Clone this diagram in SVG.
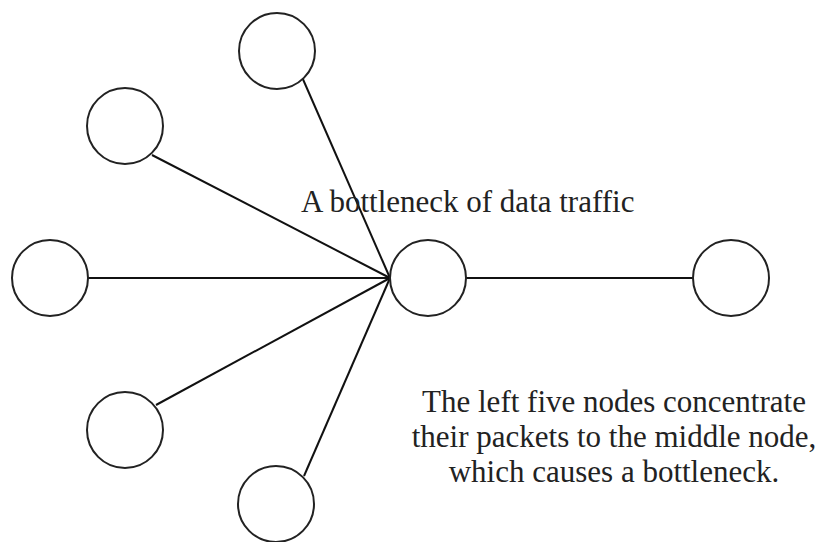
<svg xmlns="http://www.w3.org/2000/svg" width="827" height="542" viewBox="0 0 827 542">
  <style>
    .node { fill: #ffffff; stroke: #222222; stroke-width: 2; }
    .edge { stroke: #111111; stroke-width: 2; fill: none; }
    .label { font-family: "Liberation Serif", "Times New Roman", serif; fill: #222222; }
  </style>
  <rect width="827" height="542" fill="#ffffff"/>
  <g id="connectors">
    <line class="edge" x1="390" y1="278" x2="302" y2="77"/>
    <line class="edge" x1="390" y1="278" x2="152" y2="155"/>
    <line class="edge" x1="390" y1="278" x2="88" y2="278"/>
    <line class="edge" x1="390" y1="278" x2="156" y2="405"/>
    <line class="edge" x1="390" y1="278" x2="304" y2="476"/>
    <line class="edge" x1="466" y1="278" x2="693" y2="278"/>
  </g>
  <g id="node-top"><circle class="node" cx="277" cy="51" r="38"/></g>
  <g id="node-upper-left"><circle class="node" cx="125" cy="126" r="38"/></g>
  <g id="node-left"><circle class="node" cx="50" cy="278" r="38"/></g>
  <g id="node-lower-left"><circle class="node" cx="125" cy="430" r="38"/></g>
  <g id="node-bottom"><circle class="node" cx="276" cy="504" r="38"/></g>
  <g id="node-center"><circle class="node" cx="428" cy="278" r="38"/></g>
  <g id="node-right"><circle class="node" cx="731" cy="278" r="38"/></g>
  <text class="label" x="301" y="212" font-size="31">A bottleneck of data traffic</text>
  <g class="label" font-size="31" text-anchor="middle">
    <text x="614" y="412">The left five nodes concentrate</text>
    <text x="614" y="447">their packets to the middle node,</text>
    <text x="614" y="482">which causes a bottleneck.</text>
  </g>
</svg>
